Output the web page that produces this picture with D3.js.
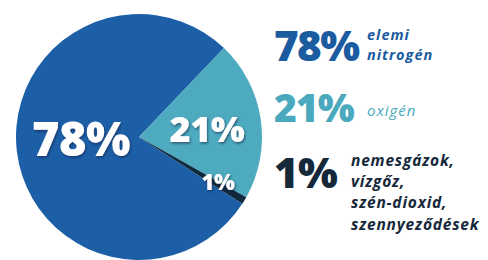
<!DOCTYPE html>
<html><head><meta charset="utf-8">
<script src="https://cdn.jsdelivr.net/npm/d3@7"></script>
<style>html,body{margin:0;padding:0;background:#fff;}svg{display:block;}</style>
</head><body>
<svg id="c" width="488" height="260"></svg>
<script>
const categories = ["elemi nitrogén", "oxigén", "nemesgázok, vízgőz, szén-dioxid, szennyeződések"];
const values = [78, 21, 1];
const pctLabels = ["78%", "21%", "1%"];
const descLines = [["elemi", "nitrogén"], ["oxigén"], ["nemesgázok,", "vízgőz,", "szén-dioxid,", "szennyeződések"]];

const colors = ["#1d5fa7", "#4eaabf", "#0f2a3f"];
const legendColors = ["#1b5b9f", "#4aa9bd", "#16293b"];

const svg = d3.select("#c");
const defs = svg.append("defs");
const f = defs.append("filter").attr("id","sh").attr("x","-20%").attr("y","-20%").attr("width","140%").attr("height","140%");
f.append("feDropShadow").attr("dx",1).attr("dy",1.5).attr("stdDeviation",1).attr("flood-color","#0a2440").attr("flood-opacity",0.6);

const cx = 139, cy = 137, r = 123;
const start = 122.9 * Math.PI / 180;
const pie = d3.pie().sort(null).value(d => d).startAngle(start).endAngle(start + 2 * Math.PI);
const arcs = pie(values);
const arc = d3.arc().innerRadius(0).outerRadius(r);

const g = svg.append("g").attr("transform", `translate(${cx},${cy})`);
g.selectAll("path").data(arcs).join("path")
  .attr("d", arc).attr("fill", (d, i) => colors[i]);

// slice labels
const labelPos = [[-58, 19], [68, 5], [79, 53]];
const labelSize = [47, 36, 22];
g.selectAll("text.pl").data(arcs).join("text").attr("class","pl")
  .attr("x", (d, i) => labelPos[i][0]).attr("y", (d, i) => labelPos[i][1])
  .attr("text-anchor", "middle")
  .attr("font-family", "'Open Sans', sans-serif").attr("font-weight", 800)
  .attr("font-size", (d, i) => labelSize[i])
  .attr("letter-spacing", -0.5)
  .attr("fill", "#fff").attr("filter","url(#sh)")
  .text((d, i) => pctLabels[i]);

// legend
const legY = [61, 122, 188];
const legSize = [42, 39, 42];
const legLS = [-1.5, -1, -0.5];
const lg = svg.append("g");
categories.forEach((c, i) => {
  lg.append("text").attr("x", 274).attr("y", legY[i])
    .attr("font-family", "'Open Sans', sans-serif").attr("font-weight", 800)
    .attr("font-size", legSize[i]).attr("letter-spacing", legLS[i])
    .attr("fill", legendColors[i]).text(pctLabels[i]);
});
const descX = [367, 367, 351];
const descY0 = [40, 116, 166];
const descDy = [20, 20, 21.2];
const descSize = [14.5, 15, 15.5];
const descWeight = [700, 400, 700];
const descLS = [1, 1, 0.8];
descLines.forEach((lines, i) => {
  lines.forEach((t, j) => {
    lg.append("text").attr("x", descX[i]).attr("y", descY0[i] + j * descDy[i])
      .attr("font-family", "'Open Sans', sans-serif").attr("font-style", "italic")
      .attr("font-weight", descWeight[i]).attr("font-size", descSize[i])
      .attr("letter-spacing", descLS[i])
      .attr("fill", legendColors[i]).text(t);
  });
});
</script>
</body></html>
